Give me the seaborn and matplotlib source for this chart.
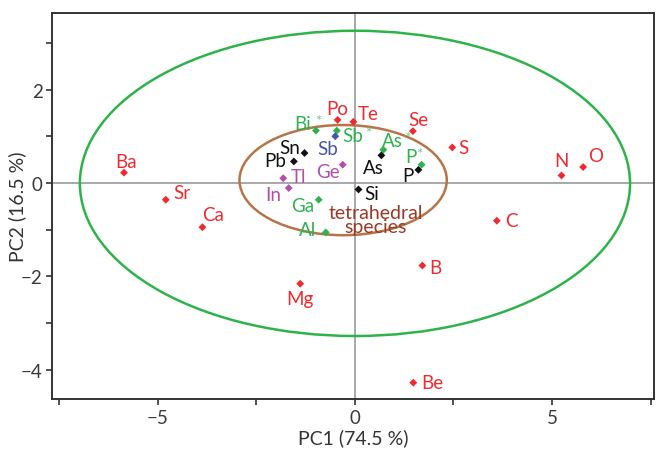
import pandas as pd
import matplotlib.pyplot as plt
import seaborn as sns
import numpy as np
from matplotlib.patches import Ellipse

# Elementos y coordenadas PCA
elementos = ["Ba", "Sr", "Ca", "Po", "Te", "Se", "S", "N", "O", "C", "B", "Mg", "Be",
             "Bi*", "Sb*", "As*", "P*", "Ga", "Al",
             "Sn", "Pb", "As", "P", "Si",
             "Sb",
             "Tl", "In", "Ge"]
pc1 = [-5.86, -4.80, -3.87, -0.44, -0.04, 1.47, 2.47, 5.24, 5.79, 3.60, 1.71, -1.39, 1.48,
       -0.99, -0.46, 0.72, 1.69, -0.92, -0.74,
       -1.28, -1.55, 0.67, 1.61, 0.09,
       -0.50,
       -1.82, -1.68, -0.31]
pc2 = [0.22, -0.36, -0.95, 1.35, 1.31, 1.11, 0.76, 0.16, 0.34, -0.81, -1.77, -2.16, -4.28,
       1.12, 1.12, 0.71, 0.39, -0.36, -1.06,
       0.64, 0.46, 0.59, 0.28, -0.14,
       1.00,
       0.10, -0.11, 0.39]
grupo = ["rojo"] * 13 + ["verde"] * 6 + ["negro"] * 5 + ["azul"] + ["violeta"] * 3

colores = {"rojo": "#ee2a2f", "verde": "#2fb34e", "negro": "#111111",
           "azul": "#4656ab", "violeta": "#b24fa9"}

# desplazamiento de cada etiqueta respecto del punto (pixeles)
desp = {"Ba": (2, 11), "Sr": (16, 7), "Ca": (11, 13), "Po": (0, 11), "Te": (15, 8),
        "Se": (5, 12), "S": (11, 0), "N": (0, 15), "O": (12, 12), "C": (15, 0),
        "B": (13, -2), "Mg": (0, -15), "Be": (19, 0),
        "Bi*": (-13, 7), "Sb*": (16, -5), "As*": (9, 9), "P*": (-11, 8),
        "Ga": (-16, -6), "Al": (-18, 3),
        "Sn": (-15, 6), "Pb": (-19, 1), "As": (-8, -12), "P": (-10, -6), "Si": (13, -4),
        "Sb": (-8, -12), "Tl": (15, 2), "In": (-16, -6), "Ge": (-15, -7)}

data = pd.DataFrame({"Elemento": elementos, "PC1": pc1, "PC2": pc2, "Grupo": grupo})

plt.rcParams["font.family"] = ["Lato", "DejaVu Sans"]
fig = plt.figure(figsize=(6.56, 4.52), dpi=100)
ax = fig.add_axes([0.0797, 0.115, 0.918, 0.854])

ax.axhline(0, color="#999999", lw=1.2, zorder=1)
ax.axvline(0, color="#999999", lw=1.2, zorder=1)

ax.add_patch(Ellipse((0.0, -0.01), 2 * 6.98, 2 * 3.27, fill=False, ec="#2db34a", lw=1.8, zorder=2))
ax.add_patch(Ellipse((-0.3, 0.06), 2 * 2.63, 2 * 1.18, fill=False, ec="#b87448", lw=1.8, zorder=2))

sns.scatterplot(data=data, x="PC1", y="PC2", hue="Grupo", palette=colores, marker="D",
                s=16, edgecolor="none", legend=False, ax=ax, zorder=3)

for _, fila in data.iterrows():
    nombre = fila["Elemento"]
    col = colores[fila["Grupo"]]
    dx, dy = desp[nombre]
    texto = nombre.rstrip("*")
    ax.annotate(texto, (fila["PC1"], fila["PC2"]), xytext=(dx, dy),
                textcoords="offset pixels", ha="center", va="center",
                color=col, fontsize=13.5, zorder=4)
    if nombre.endswith("*"):
        ancho = 6 * len(texto)
        ax.annotate("*", (fila["PC1"], fila["PC2"]), xytext=(dx + ancho + 3, dy + 3),
                    textcoords="offset pixels", ha="center", va="center",
                    color="#74c98a", fontsize=11, zorder=4)

ax.text(0.52, -0.78, "tetrahedral\nspecies", color="#9a3a28", fontsize=14,
        ha="center", va="center", linespacing=0.8, zorder=4)

ax.set_xlim(-7.68, 7.6)
ax.set_ylim(-4.63, 3.64)
ax.set_xticks(np.arange(-7.5, 7.6, 2.5))
ax.set_xticklabels(["", "\u22125", "", "0", "", "5", ""])
ax.set_yticks(np.arange(-4, 3.5, 1))
ax.set_yticklabels(["\u22124", "", "\u22122", "", "0", "", "2", ""])
ax.tick_params(direction="out", length=4, width=1.2, colors="#333333", labelsize=13.5,
               labelcolor="#3a3a3a", pad=3)
for lado in ["left", "bottom", "top", "right"]:
    ax.spines[lado].set_color("#333333")
    ax.spines[lado].set_linewidth(1.4)

ax.set_xlabel("PC1 (74.5 %)", fontsize=14, color="#333333", labelpad=2)
ax.set_ylabel("PC2 (16.5 %)", fontsize=14, color="#333333", labelpad=-4)

plt.savefig("out.png", dpi=100)
